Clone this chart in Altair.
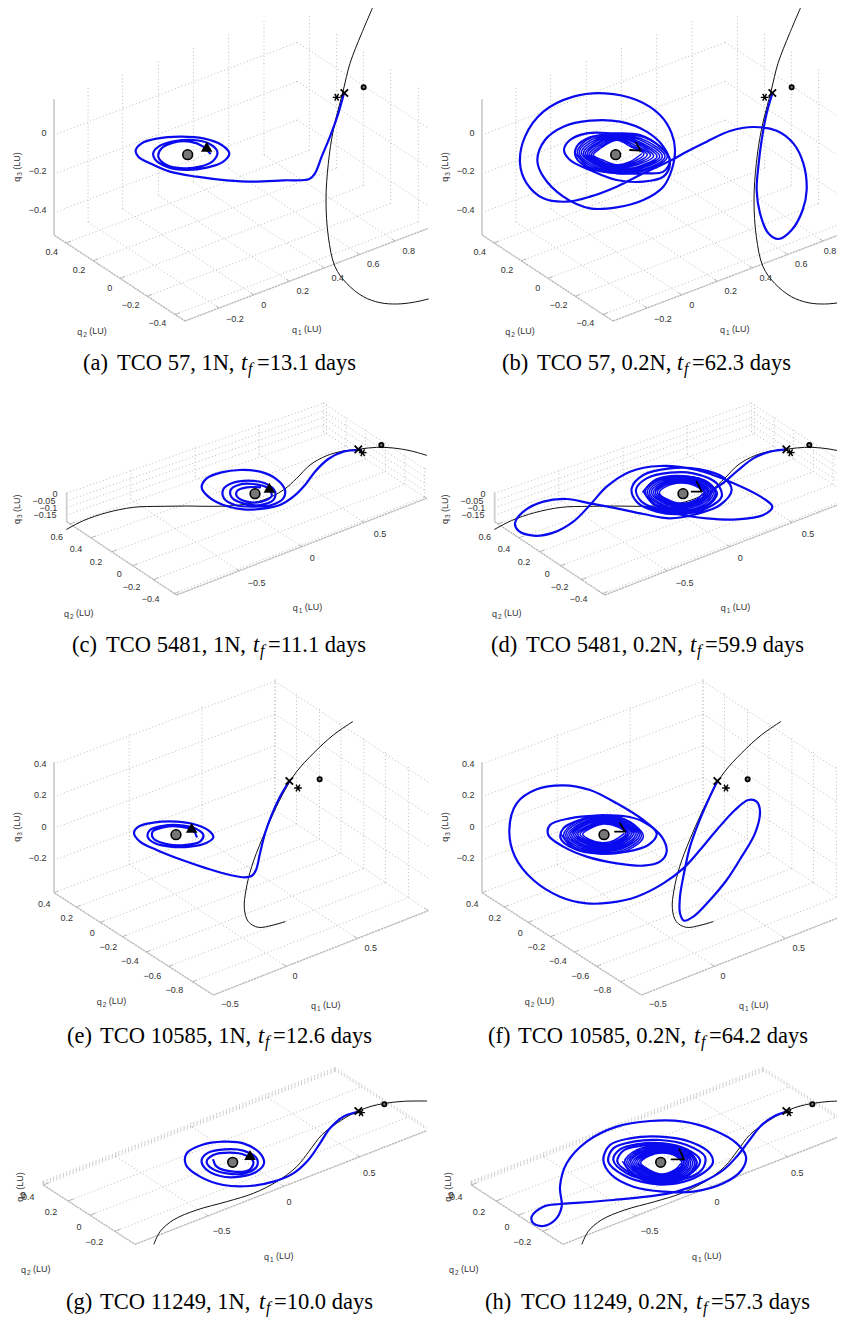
import altair as alt
import pandas as pd

ROW_Y = {"ab": 0, "cd": 390, "ef": 700, "gh": 1060}
RIGHT_DX = 428   # shared elements: right panel sits this far from the left one

BOXES = {
    "ab": dict(L=(162,705), B=(555,963), R=(1285,685), K=(892,427), H=407,
               us=[.14,.282,.429,.573,.718,.863], vs=[.092,.30,.504,.712,.924], zs=[300,183,67]),
    "cd": dict(L=(200,395), B=(530,615), R=(1280,325), K=(970,125), H=88,
               us=[.25,.5,.75,1], vs=[.03,.22,.41,.6,.79,.98], zs=[85,62,42,20]),
    "ef": dict(L=(162,578), B=(640,885), R=(1285,632), K=(825,330), H=391,
               us=[.34,.67,1], vs=[0,.14,.29,.43,.58,.72,.87], zs=[386,288,193,98]),
    "gh": dict(L=(130,375), B=(405,553), R=(1280,212), K=(1005,35), H=12,
               us=[.25,.51,.77], vs=[0,.27,.51,.78], zs=[12,8,4]),
}

TICKS = {
    "ab": [("0",132,400),("−0.2",113,513),("−0.4",113,630),
           ("0.4",155,755),("0.2",237,810),("0",329,863),("−0.2",392,915),("−0.4",472,968),
           ("−0.2",705,957),("0",791,915),("0.2",908,872),("0.4",1013,833),("0.6",1120,792),("0.8",1226,753)],
    "cd": [("0",165,312),("−0.05",132,332),("−0.1",145,353),("−0.15",135,375),
           ("0.6",170,440),("0.4",228,478),("0.2",288,517),("0",358,553),("−0.2",395,592),("−0.4",452,628),
           ("−0.5",770,578),("0",937,505),("0.5",1140,433)],
    "ef": [("0.4",121,192),("0.2",121,285),("0",132,382),("−0.2",113,473),
           ("0.4",133,611),("0.2",200,653),("0",277,698),("−0.2",325,740),("−0.4",390,782),("−0.6",457,827),("−0.8",523,870),
           ("−0.5",690,912),("0",885,827),("0.5",1112,743)],
    "gh": [("0",70,405),("0.4",85,412),("0.2",153,456),("0",237,502),("−0.2",283,547),
           ("−0.5",665,513),("0",867,427),("0.5",1108,340)],
}
AXIS_TITLES = {  # q2 left/y, q1 left/y, q3 x/bottom
    "ab": ((232,997),(876,990),(50,545)),
    "cd": ((192,672),(878,655),(52,402)),
    "ef": ((290,905),(933,918),(50,425)),
    "gh": ((63,630),(792,590),(60,425)),
}

BLACK = {
    "ab": [(1120,18),(1085,100),(1050,190),(1030,270),(1000,390),(985,490),(978,600),(985,710),(1005,800),(1040,850),(1090,890),(1140,908),(1190,912),(1240,907),(1285,897)],
    "cd": [(200,418),(250,392),(320,368),(400,352),(480,349),(560,348),(640,349),(720,345),(790,330),(850,300),(890,265),(930,225),(980,197),(1030,183),(1080,177),(1130,172),(1180,174),(1230,182),(1280,196)],
    "ef": [(1058,65),(1000,105),(940,160),(890,215),(855,270),(820,340),(785,420),(755,500),(738,570),(733,625),(745,665),(775,682),(820,675),(855,665)],
    "gh": [(462,552),(480,515),(520,480),(590,450),(680,425),(760,400),(830,365),(890,320),(930,270),(965,225),(1010,190),(1060,160),(1110,140),(1155,130),(1210,124),(1280,123)],
}
MARKS = {  # earth, triangle, cross, star, moon
    "ab": dict(earth=(563,464), tri=(620,440), cross=(1033,279), star=(1010,292), moon=(1091,262)),
    "cd": dict(earth=(765,311), tri=(808,293), cross=(1075,178), star=(1088,188), moon=(1144,165)),
    "ef": dict(earth=(528,404), tri=(575,383), cross=(868,243), star=(894,264), moon=(959,238)),
    "gh": dict(earth=(698,307), tri=(750,285), cross=(1075,153), star=(1083,158), moon=(1153,133)),
}

BLUE_A = [(1032,280),(1015,340),(990,410),(965,470),(945,520),(928,537),(850,541),(760,545),(680,541),(590,530),(510,515),(450,490),(415,470),(407,452),(425,430),(470,416),(540,410),(610,415),(665,435),(688,460),(670,485),(620,503),(560,510),(500,500),(465,478),(460,458),(480,437),(525,423),(580,420),(625,430),(652,455),(640,482),(600,500),(550,505),(500,495),(475,470),(485,445),(520,428),(570,425),(610,440),(630,460)]
BLUE_B = [(1027,280),(1010,340),(995,420),(985,500),(980,570),(990,640),(1015,700),(1045,717),(1085,690),(1118,630),(1130,570),(1120,490),(1090,430),(1040,392),(970,381),(900,393),(830,425),(770,455),(725,480),(640,520),(560,560),(480,590),(410,605),(340,595),(290,550),(270,490),(285,410),(340,335),(430,290),(525,280),(620,300),(690,345),(725,400),(735,450),(725,510),(700,560),(640,600),(560,622),(480,625),(400,590),(340,530),(322,480),(345,420),(400,380),(480,362),(570,365),(650,395),(700,440),(720,490),(700,530),(640,545),(560,540),(480,510),(420,480),(402,450),(420,420),(470,400),(550,400),(630,405),(690,440),(720,480),(700,515),(640,520),(560,520),(480,505),(438,472),(440,440),(480,412),(550,402)]
DENSE_B = [(436,460),(475,500),(560,520),(650,510),(712,470),(660,420),(560,402),(470,420),(442,458),(480,497),(560,517),(645,507),(705,470),(652,424),(560,404),(476,424),(448,458),(485,494),(560,514),(640,503),(697,470),(645,427),(560,406),(482,427),(454,459),(490,491),(560,511),(636,500),(689,470),(638,430),(560,408),(488,430),(460,460),(495,489),(560,508),(632,497),(681,470),(632,432),(560,410),(493,433),(466,461),(500,487),(560,505),(626,493),(671,468),(625,434),(560,412),(498,435),(472,462),(504,485),(560,503),(620,491),(662,466),(617,437),(560,414),(504,438),(478,463),(508,484),(560,500),(612,489),(652,464),(610,439),(560,417),(509,441),(484,464),(512,483),(560,497),(605,487),(642,462),(604,441),(560,421),(513,444),(490,465),(518,480),(560,494),(600,485),(634,462)]
BLUE_C = [(1082,180),(1030,185),(985,207),(945,245),(915,285),(880,320),(840,345),(790,356),(730,358),(670,345),(625,320),(605,292),(620,265),(665,247),(720,240),(780,245),(830,268),(855,300),(850,325),(815,345),(760,350),(705,345),(672,325),(670,298),(695,280),(745,272),(795,280),(825,305),(820,330),(780,345),(730,340),(695,322),(692,300),(715,285),(760,282),(805,295),(815,318),(785,335),(740,335),(710,318),(712,302),(740,292),(780,292)]
BLUE_D1 = [(1070,178),(1020,185),(970,205),(925,240),(885,275),(850,300),(835,320)]
BLUE_D2 = [(640,350),(740,372),(830,385),(920,388),(1000,375),(1027,350),(1000,325),(900,275),(800,240),(690,228),(600,245),(530,290),(480,345),(430,395),(370,428),(310,437),(265,422),(255,400),(280,365),(340,335),(410,327),(480,340),(560,355),(640,372),(720,385),(800,372),(870,345),(905,300),(880,262),(810,238),(720,235),(640,255),(605,295),(620,335),(680,365),(760,372),(830,355),(875,320),(860,280),(790,250),(720,248),(650,265),(618,298),(635,335),(690,358),(760,366),(825,350),(858,315),(835,278),(760,258),(680,268),(640,305)]
DENSE_D = [(640,305),(672,345),(755,368),(830,350),(862,310),(825,272),(750,258),(675,272),(646,305),(677,343),(755,364),(826,347),(856,310),(821,275),(752,261),(679,275),(652,306),(682,340),(755,360),(822,344),(850,310),(817,277),(752,264),(684,278),(658,306),(687,338),(755,356),(818,340),(844,310),(813,280),(752,267),(689,281),(664,306),(692,335),(755,352),(814,337),(838,310),(809,282),(752,270),(694,283),(670,307),(697,333),(755,349),(810,335),(833,310),(805,284),(752,273),(698,285),(676,307),(702,331),(755,346),(806,333),(828,310),(801,286),(752,276),(703,287),(682,307),(706,329),(755,343),(802,331),(823,311),(797,288),(752,279),(708,290),(688,308),(710,327),(755,340),(798,329),(818,311)]
BLUE_E = [(868,243),(840,290),(815,345),(795,400),(780,460),(768,510),(755,528),(735,532),(690,525),(620,505),(540,478),(470,450),(420,425),(402,400),(415,380),(460,368),(530,365),(590,375),(630,395),(640,412),(620,428),(570,440),(510,440),(465,430),(443,410),(450,390),(485,378),(535,375),(585,385),(610,405),(600,425),(555,435),(500,432),(460,415),(458,395),(490,382),(540,380),(580,392),(590,410)]
BLUE_F = [(862,243),(835,300),(805,370),(780,440),(762,520),(750,590),(750,640),(762,662),(790,650),(840,600),(890,540),(935,470),(975,400),(990,335),(980,305),(955,300),(915,330),(860,390),(810,450),(760,505),(700,550),(620,590),(540,608),(470,610),(390,590),(310,540),(255,470),(238,390),(260,310),(320,268),(400,256),(480,270),(560,310),(640,360),(695,410),(710,455),(690,485),(640,497),(560,490),(470,470),(400,440),(355,405),(360,375),(420,355),(500,347),(580,348),(640,365),(680,400),(655,435),(590,455),(510,460),(430,445),(392,415),(400,385),(450,360),(520,345)]
DENSE_F = [(395,405),(430,445),(510,462),(590,452),(640,410),(600,365),(520,345),(440,365),(401,405),(435,442),(510,458),(586,448),(634,408),(596,367),(520,349),(445,368),(407,405),(440,439),(510,454),(582,444),(628,407),(592,370),(520,352),(450,371),(413,405),(445,436),(510,451),(578,441),(622,405),(588,372),(520,355),(455,373),(419,405),(449,433),(510,448),(574,438),(616,404),(584,373),(520,358),(459,375),(425,404),(453,430),(512,445),(570,435),(610,402),(580,375),(520,361),(463,377),(431,404),(458,427),(512,442),(566,432),(604,401),(576,377),(520,364),(468,380),(437,403),(462,425),(513,439),(562,429),(598,400),(572,379),(520,367),(472,382),(443,403),(467,423),(514,436),(558,427),(593,400),(568,380),(520,369),(477,383),(450,403),(472,420),(516,432),(556,424),(588,400),(564,381),(520,372),(482,385),(458,403),(478,418),(518,428),(552,421),(582,401)]
BLUE_G = [(1078,155),(1030,170),(990,205),(960,250),(925,300),(880,340),(820,365),(750,378),(670,375),(600,350),(558,315),(560,280),(605,255),(670,245),(730,250),(780,280),(792,310),(770,335),(720,350),(660,348),(615,325),(605,300),(625,278),(675,268),(730,272),(770,295),(770,320),(735,340),(680,340),(635,325),(620,305),(640,285),(690,278),(735,285),(760,305),(750,328),(700,335),(650,320),(640,300)]
BLUE_H = [(1072,155),(1030,170),(990,200),(955,245),(920,290),(880,330),(820,365),(740,395),(650,410),(550,420),(450,428),(390,432),(340,440),(305,470),(310,490),(340,498),(375,480),(395,440),(390,380),(410,310),(470,245),(560,200),(660,183),(760,185),(850,210),(920,250),(948,290),(935,330),(880,370),(790,395),(700,395),(610,380),(545,345),(520,300),(540,255),(600,235),(690,230),(780,245),(840,280),(848,310),(810,345),(740,370),(660,370),(580,345),(535,305),(550,265),(610,245),(690,240),(770,255),(825,290),(815,330),(750,360),(670,362),(590,340),(550,300),(570,268),(625,252),(700,250),(770,268),(810,300),(795,330),(745,355),(670,358),(600,338),(562,305),(580,272),(630,258),(700,254),(765,270),(800,305),(780,340),(700,362),(615,345)]
DENSE_H = [(578,305),(610,345),(690,374),(770,352),(800,310),(770,272),(695,256),(620,270),(584,305),(615,343),(690,370),(766,349),(794,310),(766,274),(695,259),(625,273),(590,306),(620,340),(690,366),(762,346),(788,310),(762,277),(695,262),(630,276),(596,306),(625,338),(690,362),(758,343),(782,310),(758,279),(695,265),(634,278),(602,306),(629,336),(690,358),(754,340),(776,310),(754,281),(695,268),(639,280),(608,307),(634,334),(690,354),(750,337),(771,310),(750,284),(695,271),(644,282),(614,307),(639,332),(690,351),(746,335),(766,310),(746,286),(695,274),(649,284),(620,307),(644,330),(691,348),(742,333),(761,310),(742,287),(695,276),(653,286),(626,308),(648,328),(692,345),(738,331),(756,311),(738,289),(695,279),(657,288),(632,308),(652,326),(692,342),(735,329),(752,311)]

TAILS = {  # black corners of the arrival triangle in the right panels
    "b": [[(618,428),(632,452),(600,450)]],
    "d": [[(800,275),(815,305),(785,305)]],
    "f": [[(570,370),(585,395),(555,395)]],
    "h": [[(748,268),(762,298),(725,298)]],
}

THICK = {"a":[BLUE_A],"b":[BLUE_B],"c":[BLUE_C],"d":[BLUE_D1,BLUE_D2],"e":[BLUE_E],"f":[BLUE_F],"g":[BLUE_G],"h":[BLUE_H]}
THIN = {"b":[DENSE_B],"d":[DENSE_D],"f":[DENSE_F],"h":[DENSE_H]}
PANEL_ROW = {"a":"ab","b":"ab","c":"cd","d":"cd","e":"ef","f":"ef","g":"gh","h":"gh"}

CAPTIONS = [  # label, body, tail, label x, body x, t x, f x, tail x, baseline
    ("(a)","TCO 57, 1N,","=13.1 days",83,117,241,248,257,370),
    ("(b)","TCO 57, 0.2N,","=62.3 days",502,537,677,684,692,370),
    ("(c)","TCO 5481, 1N,","=11.1 days",72,106,253,260,268,652),
    ("(d)","TCO 5481, 0.2N,","=59.9 days",491,526,690,697,705,652),
    ("(e)","TCO 10585, 1N,","=12.6 days",67,100,258,265,273,1043),
    ("(f)","TCO 10585, 0.2N,","=64.2 days",488,518,694,701,709,1043),
    ("(g)","TCO 11249, 1N,","=10.0 days",66,100,259,266,274,1309),
    ("(h)","TCO 11249, 0.2N,","=57.3 days",485,521,696,703,711,1309),
]

DOM_X = [8, 837]
DOM_Y = [8, 1320]
X = alt.X("x:Q", scale=alt.Scale(domain=DOM_X, nice=False, zero=False), axis=None)
Y = alt.Y("y:Q", scale=alt.Scale(domain=DOM_Y[::-1], nice=False, zero=False), axis=None)

def to_img(p, row, right=False, shared=True):
    x = p[0] / 3
    if right:
        x += RIGHT_DX if shared else 430
    return x, p[1] / 3 + ROW_Y[row]

def lerp(a, b, t):
    return (a[0] + (b[0]-a[0])*t, a[1] + (b[1]-a[1])*t)

grid, axes, zaxis, ticks_seg, tick_text, sub_text, title_text, rot_text, rot_sub = [], [], [], [], [], [], [], [], []
for row, box in BOXES.items():
    L, B, R, K, H = box["L"], box["B"], box["R"], box["K"], box["H"]
    segs, edge, tk = [], [], []
    up = lambda p, h: (p[0], p[1]-h)
    for z in box["zs"]:
        segs += [(up(L,z), up(K,z)), (up(K,z), up(R,z))]
    for u in box["us"]:
        a, b = lerp(L,K,u), lerp(B,R,u)
        segs += [(a, b), (a, up(a,H))]
        tk.append((b, lerp(b, a, 0.025)))
    for v in box["vs"]:
        a, b = lerp(L,B,v), lerp(K,R,v)
        segs += [(a, b), (b, up(b,H))]
        tk.append((a, lerp(a, b, 0.02)))
    edge = [(L,B),(B,R)]
    for right in (False, True):
        for store, src in ((grid, segs), (axes, edge), (ticks_seg, tk)):
            for p, q in src:
                x, y = to_img(p, row, right); x2, y2 = to_img(q, row, right)
                store.append(dict(x=x, y=y, x2=x2, y2=y2))
        x, y = to_img(L, row, right); _, y2 = to_img(up(L,H), row, right)
        zaxis.append(dict(x=x, y=y, x2=x, y2=y2))
        for t, a, b in TICKS[row]:
            x, y = to_img((a,b), row, right)
            tick_text.append(dict(x=min(x, 830), y=y, text=t))  # keep the last label inside the page
        (q2, q1, q3) = AXIS_TITLES[row]
        for (pos, n) in ((q2,"2"),(q1,"1")):
            x, y = to_img(pos, row, right)
            title_text.append(dict(x=x, y=y, text="q"))
            sub_text.append(dict(x=x+6, y=y+3, text=n))
            title_text.append(dict(x=x+12, y=y-1, text="(LU)"))
        x, y = to_img(q3, row, right)
        rot_text.append(dict(x=x, y=y, text="q"))
        rot_sub.append(dict(x=x+3, y=y-6, text="3"))
        rot_text.append(dict(x=x, y=y-12, text="(LU)"))

def lines(panels):
    rows = []
    for name, curves in panels.items():
        row = PANEL_ROW[name]
        right = name in "bdfh"
        for k, curve in enumerate(curves):
            for i, p in enumerate(curve):
                x, y = to_img(p, row, right, shared=False)
                rows.append(dict(x=x, y=y, s=f"{name}{k}", i=i))
    return pd.DataFrame(rows)

black_rows = []
for row, curve in BLACK.items():
    for right in (False, True):
        for i, p in enumerate(curve):
            x, y = to_img(p, row, right)
            black_rows.append(dict(x=x, y=y, s=f"{row}{right}", i=i))

def marker(kind):
    out = []
    for row, m in MARKS.items():
        for right in (False, True):
            if kind == "tri" and right:
                continue
            x, y = to_img(m[kind], row, right)
            out.append(dict(x=x, y=y))
    return pd.DataFrame(out)

def rule(rows, color, width, dash=None):
    kw = dict(color=color, strokeWidth=width)
    if dash:
        kw["strokeDash"] = dash
    return alt.Chart(pd.DataFrame(rows)).mark_rule(**kw).encode(x=X, y=Y, x2="x2:Q", y2="y2:Q")

def path(df, color, width, interp="catmull-rom"):
    return alt.Chart(df).mark_line(color=color, strokeWidth=width, interpolate=interp, strokeCap="round", strokeJoin="round").encode(
        x=X, y=Y, detail="s:N", order="i:Q")

def text(rows, size, font="Liberation Sans", color="#333333", align="center", baseline="middle", angle=None, style=None):
    kw = dict(fontSize=size, font=font, color=color, align=align, baseline=baseline)
    if angle is not None:
        kw["angle"] = angle
    if style:
        kw["fontStyle"] = style
    return alt.Chart(pd.DataFrame(rows)).mark_text(**kw).encode(x=X, y=Y, text="text:N")

def symbol(kind, shape, size, **kw):
    return alt.Chart(marker(kind)).mark_point(shape=shape, size=size, opacity=1, **kw).encode(x=X, y=Y)

CROSS = "M-1,-1L1,1M-1,1L1,-1"
STAR = "M-1,0L1,0M-0.5,-0.87L0.5,0.87M-0.5,0.87L0.5,-0.87"

cap_t, cap_f, cap_body = [], [], []
for lab, body, tail, xl, xb, xt, xf, xe, yb in CAPTIONS:
    cap_body += [dict(x=xl, y=yb, text=lab), dict(x=xb, y=yb, text=body), dict(x=xe, y=yb, text=tail)]
    cap_t.append(dict(x=xt, y=yb, text="t"))
    cap_f.append(dict(x=xf, y=yb+4, text="f"))

layers = [
    rule(grid, "#bdbdbd", 1, [1, 2.5]),
    rule(axes, "#bbbbbb", 1.4, [2.5, 0.6]),
    rule(ticks_seg, "#aaaaaa", 0.8),
    rule(zaxis, "#cfcfcf", 1.8),
    path(pd.DataFrame(black_rows), "#111111", 1),
    path(lines(THIN), "#0a0aee", 1.5),
    path(lines(THICK), "#0a0aee", 2.2),
    path(lines(TAILS), "#000000", 1.8, "linear"),
    symbol("tri", "triangle-up", 135, filled=True, color="#000000"),
    symbol("earth", "circle", 95, filled=True, fill="#777777", stroke="#000000", strokeWidth=1.6),
    symbol("moon", "circle", 18, filled=True, fill="#777777", stroke="#000000", strokeWidth=1.8),
    symbol("cross", CROSS, 55, filled=False, stroke="#000000", strokeWidth=1.8),
    symbol("star", STAR, 60, filled=False, stroke="#000000", strokeWidth=1.4),
    text(tick_text, 9),
    text(title_text, 9, align="left"),
    text(sub_text, 6.5, align="left"),
    text(rot_text, 9, align="left", angle=270),
    text(rot_sub, 6.5, align="left", angle=270),
    text(cap_body, 22.5, font="Liberation Serif", color="#000000", align="left", baseline="alphabetic"),
    text(cap_t, 22.5, font="Liberation Serif", color="#000000", align="left", baseline="alphabetic", style="italic"),
    text(cap_f, 16, font="Liberation Serif", color="#000000", align="left", baseline="alphabetic", style="italic"),
]

chart = alt.layer(*layers).properties(
    width=829, height=1312, padding=0, autosize=alt.AutoSizeParams(type="none")
).configure_view(stroke=None)

chart.save("out.html", embed_options={"renderer": "svg", "actions": False})
